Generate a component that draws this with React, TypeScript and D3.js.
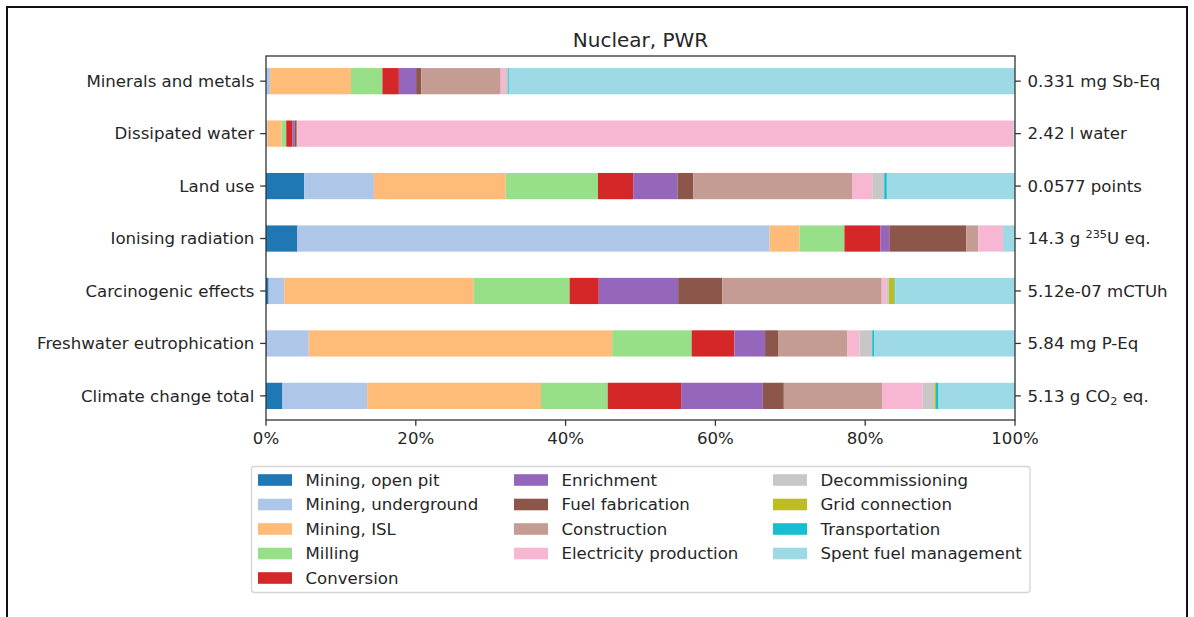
import * as d3 from "d3";
import React from "react";

// impact categories, top to bottom
const categories = [
  "Minerals and metals",
  "Dissipated water",
  "Land use",
  "Ionising radiation",
  "Carcinogenic effects",
  "Freshwater eutrophication",
  "Climate change total",
];

// totals shown on the right axis (parts: text, superscript/subscript, rest)
const totals = [
  { pre: "0.331 mg Sb-Eq" },
  { pre: "2.42 l water" },
  { pre: "0.0577 points" },
  { pre: "14.3 g ", sup: "235", post: "U eq." },
  { pre: "5.12e-07 mCTUh" },
  { pre: "5.84 mg P-Eq" },
  { pre: "5.13 g CO", sub: "2", post: " eq." },
];

const stages = [
  "Mining, open pit",
  "Mining, underground",
  "Mining, ISL",
  "Milling",
  "Conversion",
  "Enrichment",
  "Fuel fabrication",
  "Construction",
  "Electricity production",
  "Decommissioning",
  "Grid connection",
  "Transportation",
  "Spent fuel management",
];

const stageColors = [
  "#1f77b4", "#aec7e8", "#ffbb78", "#98df8a", "#d62728", "#9467bd", "#8c564b",
  "#c49c94", "#f7b6d2", "#c7c7c7", "#bcbd22", "#17becf", "#9edae5",
];

// share (%) of each stage, in the order of categories
const miningOpenPit = [0.05, 0, 5.1, 4.2, 0.35, 0.1, 2.2];
const miningUnderground = [0.5, 0.2, 9.3, 63.1, 2.1, 5.6, 11.3];
const miningISL = [10.8, 1.9, 17.6, 4.0, 25.3, 40.5, 23.2];
const milling = [4.2, 0.6, 12.3, 6.0, 12.8, 10.6, 8.9];
const conversion = [2.2, 0.8, 4.7, 4.8, 3.9, 5.7, 9.8];
const enrichment = [2.3, 0.3, 5.9, 1.2, 10.6, 4.1, 10.9];
const fuelFabrication = [0.7, 0.3, 2.1, 10.3, 5.9, 1.8, 2.8];
const construction = [10.6, 0.1, 21.2, 1.6, 21.3, 9.2, 13.1];
const electricityProduction = [0.6, 95.6, 2.7, 3.3, 0.6, 1.6, 5.4];
const decommissioning = [0.4, 0, 1.6, 0, 0.35, 1.7, 1.6];
const gridConnection = [0, 0, 0, 0, 0.75, 0, 0.2];
const transportation = [0.1, 0, 0.35, 0, 0.1, 0.25, 0.35];
const spentFuel = [67.6, 0.2, 17.1, 1.6, 16.0, 18.8, 10.2];

const seriesValues = [
  miningOpenPit, miningUnderground, miningISL, milling, conversion, enrichment,
  fuelFabrication, construction, electricityProduction, decommissioning,
  gridConnection, transportation, spentFuel,
];

const xTicks = [0, 0.2, 0.4, 0.6, 0.8, 1];

const FONT = "DejaVu Sans, sans-serif";
const TEXT = "#262626";

export default function App() {
  const width = 1194;
  const height = 617;
  const left = 266, right = 1015, top = 56, bottom = 420;
  const fs = 16.6;

  const x = d3.scaleLinear().domain([0, 1]).range([left, right]);
  const y = d3.scaleLinear().domain([-0.48, 6.46]).range([top, bottom]);
  const barH = y(0.25) - y(-0.25);

  const rows = categories.map((c, i) => {
    const r: Record<string, number | string> = { category: c };
    stages.forEach((s, k) => (r[s] = seriesValues[k][i]));
    return r;
  });
  const stacked = d3
    .stack<Record<string, number | string>>()
    .keys(stages)
    .offset(d3.stackOffsetExpand)(rows as any);

  const color = d3.scaleOrdinal<string, string>().domain(stages).range(stageColors);

  // legend: 3 columns filled column-wise (5, 4, 4 entries)
  const colStarts = [0, 5, 9];
  const legX = 251.5, legY = 466.5, legW = 778.5, legH = 126;
  const colX = [258, 514, 773];
  const rowY = d3.range(5).map((i) => 480 + i * 24.5);

  return (
    <svg
      width={width}
      height={height}
      style={{ position: "absolute", left: 0, top: 0, background: "#fff" }}
      fontFamily={FONT}
    >
      <rect x={7} y={7} width={1180} height={620} fill="#fff" stroke="#111" strokeWidth={2} />

      <text x={(left + right) / 2} y={47} textAnchor="middle" fontSize={20} fill={TEXT}>
        Nuclear, PWR
      </text>

      {stacked.map((layer) => (
        <g key={layer.key} fill={color(layer.key)}>
          {layer.map((d, i) => (
            <rect
              key={i}
              x={x(d[0])}
              width={Math.max(0, x(d[1]) - x(d[0]))}
              y={y(i) - barH / 2}
              height={barH}
            />
          ))}
        </g>
      ))}

      {/* frame */}
      <rect x={left} y={top} width={right - left} height={bottom - top} fill="none" stroke="#333" strokeWidth={1.3} />

      {/* left ticks and labels */}
      {categories.map((c, i) => (
        <g key={c}>
          <line x1={left - 5.8} x2={left} y1={y(i)} y2={y(i)} stroke="#333" strokeWidth={1.3} />
          <text x={left - 11.6} y={y(i)} dy="0.35em" textAnchor="end" fontSize={fs} fill={TEXT}>
            {c}
          </text>
          <line x1={right} x2={right + 5.8} y1={y(i)} y2={y(i)} stroke="#333" strokeWidth={1.3} />
          <text x={right + 12.5} y={y(i)} dy="0.35em" fontSize={fs} fill={TEXT}>
            {totals[i].pre}
            {totals[i].sup && (
              <tspan fontSize={fs * 0.68} dy="-0.55em">{totals[i].sup}</tspan>
            )}
            {totals[i].sub && (
              <tspan fontSize={fs * 0.68} dy="0.3em">{totals[i].sub}</tspan>
            )}
            {totals[i].post && (
              <tspan dy={totals[i].sup ? "0.37em" : "-0.2em"}>{totals[i].post}</tspan>
            )}
          </text>
        </g>
      ))}

      {/* bottom ticks */}
      {xTicks.map((t) => (
        <g key={t}>
          <line x1={x(t)} x2={x(t)} y1={bottom} y2={bottom + 5.8} stroke="#333" strokeWidth={1.3} />
          <text x={x(t)} y={bottom + 24} textAnchor="middle" fontSize={fs} fill={TEXT}>
            {d3.format(".0%")(t)}
          </text>
        </g>
      ))}

      {/* legend */}
      <rect x={legX} y={legY} width={legW} height={legH} rx={3} fill="#fff" stroke="#d5d5d5" strokeWidth={1.3} />
      {stages.map((s, k) => {
        const col = k >= colStarts[2] ? 2 : k >= colStarts[1] ? 1 : 0;
        const row = k - colStarts[col];
        return (
          <g key={s}>
            <rect x={colX[col]} y={rowY[row] - 5.8} width={34} height={11.6} fill={color(s)} />
            <text x={colX[col] + 47.5} y={rowY[row]} dy="0.35em" fontSize={fs} fill={TEXT}>
              {s}
            </text>
          </g>
        );
      })}
    </svg>
  );
}
